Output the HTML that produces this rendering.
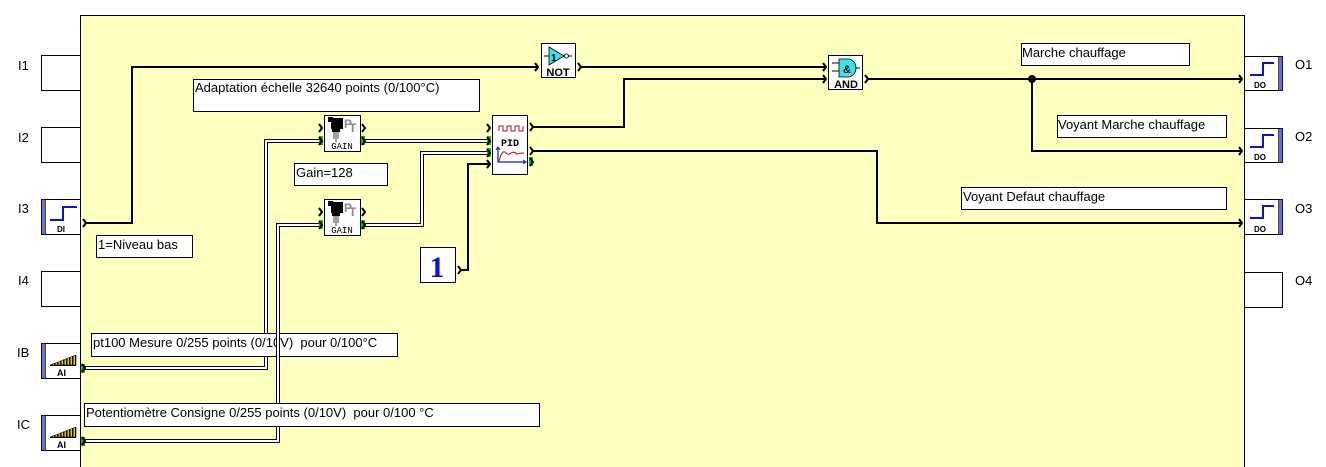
<!DOCTYPE html>
<html><head><meta charset="utf-8"><style>
html,body{margin:0;padding:0;background:#fff;}
svg{display:block;}
.s{font-family:"Liberation Sans",Arial,sans-serif;}
.m{font-family:"Liberation Mono","DejaVu Sans Mono",monospace;}
.r{font-family:"Liberation Serif","DejaVu Serif",serif;}
</style></head><body>
<svg width="1326" height="467" viewBox="0 0 1326 467" xmlns="http://www.w3.org/2000/svg">
<!-- main panel -->
<rect x="80.5" y="15.5" width="1164" height="460" fill="#FFFFC0" stroke="#000" stroke-width="1"/>

<!-- left labels -->
<g font-size="13" fill="#000" class="s">
<text class="s" x="18" y="70">I1</text><text class="s" x="18" y="142">I2</text><text class="s" x="18" y="213">I3</text>
<text class="s" x="18" y="285">I4</text><text class="s" x="17" y="357">IB</text><text class="s" x="17" y="429">IC</text>
<text class="s" x="1295" y="69">O1</text><text class="s" x="1295" y="141">O2</text><text class="s" x="1295" y="213">O3</text><text class="s" x="1295" y="285">O4</text>
</g>

<!-- input boxes -->
<g fill="#fff" stroke="#000" stroke-width="1">
<rect x="41.5" y="55.5" width="39" height="35"/>
<rect x="41.5" y="127.5" width="39" height="35"/>
<rect x="41.5" y="199.5" width="39" height="35"/>
<rect x="41.5" y="271.5" width="39" height="35"/>
<rect x="41.5" y="343.5" width="39" height="35"/>
<rect x="41.5" y="415.5" width="39" height="35"/>
<rect x="1244.5" y="56.5" width="38" height="34"/>
<rect x="1244.5" y="128.5" width="38" height="34"/>
<rect x="1244.5" y="199.5" width="38" height="35"/>
<rect x="1244.5" y="272.5" width="38" height="35"/>
</g>
<!-- blue bars -->
<g fill="#6C6CD6" stroke="#000" stroke-width="0.6">
<rect x="41.5" y="199.5" width="4" height="35"/>
<rect x="41.5" y="343.5" width="4" height="35"/>
<rect x="41.5" y="415.5" width="4" height="35"/>
<rect x="1278.5" y="56.5" width="4" height="34"/>
<rect x="1278.5" y="128.5" width="4" height="34"/>
<rect x="1278.5" y="199.5" width="4" height="35"/>
</g>
<!-- DI icon -->
<path d="M50 220 H63 V207 H77" fill="none" stroke="#1010D0" stroke-width="2"/>
<text class="s" x="57" y="232" font-size="8" font-weight="bold">DI</text>
<!-- DO icons -->
<g fill="none" stroke="#1010D0" stroke-width="2">
<path d="M1250 75 H1263 V63 H1274"/>
<path d="M1250 147 H1263 V135 H1274"/>
<path d="M1250 218 H1263 V206 H1274"/>
</g>
<g font-size="8" font-weight="bold">
<text class="s" x="1254" y="88">DO</text><text class="s" x="1254" y="160">DO</text><text class="s" x="1254" y="232">DO</text>
</g>
<!-- AI icons -->
<defs>
<pattern id="st" width="3" height="4" patternUnits="userSpaceOnUse">
<rect width="3" height="4" fill="#E8D000"/><rect width="1.5" height="4" fill="#000"/>
</pattern>
</defs>
<polygon points="50,365 76,355 76,365" fill="url(#st)" stroke="#000" stroke-width="0.5"/>
<line x1="50" y1="365.5" x2="76" y2="365.5" stroke="#000"/>
<text class="s" x="57" y="376" font-size="9" font-weight="bold">AI</text>
<polygon points="50,437 76,427 76,437" fill="url(#st)" stroke="#000" stroke-width="0.5"/>
<line x1="50" y1="437.5" x2="76" y2="437.5" stroke="#000"/>
<text class="s" x="57" y="448" font-size="9" font-weight="bold">AI</text>

<!-- IB double wire (under pt100 box) -->
<path d="M85 368 H266 V141 H319" fill="none" stroke="#000" stroke-width="4"/>
<path d="M85 368 H266 V141 H319" fill="none" stroke="#fff" stroke-width="2"/>

<!-- pt100 label -->
<rect x="91.5" y="333.5" width="306" height="23" fill="#fff" stroke="#000"/>
<text class="s" x="93" y="347" font-size="13">pt100 Mesure 0/255 points (0/10V)&#160; pour 0/100°C</text>

<!-- IC double wire -->
<path d="M85 441 H278 V225 H319" fill="none" stroke="#000" stroke-width="4"/>
<path d="M85 441 H278 V225 H319" fill="none" stroke="#fff" stroke-width="2"/>

<!-- Potentiometre label -->
<rect x="84.5" y="403.5" width="455" height="23" fill="#fff" stroke="#000"/>
<text class="s" x="86" y="417" font-size="13">Potentiomètre Consigne 0/255 points (0/10V)&#160; pour 0/100 °C</text>

<!-- other double wires -->
<path d="M365 141 H488" fill="none" stroke="#000" stroke-width="4"/>
<path d="M365 141 H488" fill="none" stroke="#fff" stroke-width="2"/>
<path d="M365 225 H422 V153 H488" fill="none" stroke="#000" stroke-width="4"/>
<path d="M365 225 H422 V153 H488" fill="none" stroke="#fff" stroke-width="2"/>

<!-- single wires -->
<g fill="none" stroke="#000" stroke-width="2">
<path d="M86 223 H132 V67 H537"/>
<path d="M580 67 H826"/>
<path d="M532 127 H624 V79 H826"/>
<path d="M867 79 H1242"/>
<path d="M1032 79 V151 H1242"/>
<path d="M532 151 H877 V223 H1242"/>
<path d="M462 270 H468 V164 H490"/>
</g>
<circle cx="1032" cy="79" r="4" fill="#000"/>

<!-- label boxes -->
<g fill="#fff" stroke="#000">
<rect x="193.5" y="79.5" width="286" height="32"/>
<rect x="294.5" y="163.5" width="93" height="22"/>
<rect x="96.5" y="235.5" width="96" height="22"/>
<rect x="1021.5" y="43.5" width="168" height="22"/>
<rect x="1057.5" y="115.5" width="169" height="22"/>
<rect x="961.5" y="187.5" width="265" height="22"/>
</g>
<g font-size="13" fill="#000">
<text class="s" x="195" y="92">Adaptation échelle 32640 points (0/100°C)</text>
<text class="s" x="296" y="177">Gain=128</text>
<text class="s" x="98" y="249">1=Niveau bas</text>
<text class="s" x="1022" y="57">Marche chauffage</text>
<text class="s" x="1058" y="129">Voyant Marche chauffage</text>
<text class="s" x="963" y="201">Voyant Defaut chauffage</text>
</g>

<!-- NOT block -->
<rect x="541.5" y="43.5" width="34" height="34" fill="#fff" stroke="#000"/>
<line x1="544" y1="56" x2="549" y2="56" stroke="#000"/>
<polygon points="549,47 549,65 564,56" fill="#40E0E8" stroke="#000" stroke-width="0.8"/>
<circle cx="566.5" cy="56" r="2" fill="#fff" stroke="#000" stroke-width="0.8"/>
<line x1="568.5" y1="56" x2="572" y2="56" stroke="#000"/>
<text class="s" x="551" y="61" font-size="10" font-weight="bold">1</text>
<text class="s" x="558" y="76" font-size="11" font-weight="bold" text-anchor="middle">NOT</text>

<!-- AND block -->
<rect x="828.5" y="55.5" width="34" height="34" fill="#fff" stroke="#000"/>
<line x1="832" y1="63" x2="839" y2="63" stroke="#000"/>
<line x1="832" y1="71" x2="839" y2="71" stroke="#000"/>
<path d="M839 59 H848 A8 9 0 0 1 848 77 H839 Z" fill="#40E0E8" stroke="#000" stroke-width="0.8"/>
<line x1="856" y1="68" x2="860" y2="68" stroke="#000"/>
<text class="s" x="847" y="73" font-size="11" font-weight="bold" text-anchor="middle">&amp;</text>
<text class="s" x="846" y="88" font-size="11" font-weight="bold" text-anchor="middle">AND</text>

<!-- GAIN blocks -->
<g>
<rect x="324.5" y="115.5" width="36" height="36" fill="#fff" stroke="#000"/>
<rect x="328" y="117" width="5" height="5" fill="#000"/>
<rect x="331" y="118" width="12" height="11" fill="#000"/>
<rect x="332" y="129" width="8" height="3" fill="#000"/>
<rect x="333" y="132" width="6" height="7" fill="#A0A0A0"/>
<rect x="335" y="139" width="2" height="3" fill="#A0A0A0"/>
<text class="s" x="344" y="128" font-size="12" font-weight="bold" fill="#8A8A8A">P</text>
<text class="s" x="349" y="132" font-size="12" font-weight="bold" fill="#8A8A8A">T</text>
<text class="m" x="342" y="149" font-size="9" text-anchor="middle">GAIN</text>
</g>
<g>
<rect x="324.5" y="199.5" width="36" height="36" fill="#fff" stroke="#000"/>
<rect x="328" y="201" width="5" height="5" fill="#000"/>
<rect x="331" y="202" width="12" height="11" fill="#000"/>
<rect x="332" y="213" width="8" height="3" fill="#000"/>
<rect x="333" y="216" width="6" height="7" fill="#A0A0A0"/>
<rect x="335" y="223" width="2" height="3" fill="#A0A0A0"/>
<text class="s" x="344" y="212" font-size="12" font-weight="bold" fill="#8A8A8A">P</text>
<text class="s" x="349" y="216" font-size="12" font-weight="bold" fill="#8A8A8A">T</text>
<text class="m" x="342" y="233" font-size="9" text-anchor="middle">GAIN</text>
</g>

<!-- PID block -->
<rect x="492.5" y="115.5" width="35" height="59" fill="#fff" stroke="#000"/>
<path d="M499 131 V126 H503 V131 H507 V126 H511 V131 H515 V126 H519 V131 H523 V126" fill="none" stroke="#B01010" stroke-width="1"/>
<text class="m" x="510" y="146" font-size="10" font-weight="bold" text-anchor="middle">PID</text>
<path d="M498 148 V162 H525" fill="none" stroke="#1010D0" stroke-width="1.2"/>
<path d="M496 150 L498 147 L500 150" fill="none" stroke="#1010D0" stroke-width="1"/>
<path d="M523 160 L526 162 L523 164" fill="none" stroke="#1010D0" stroke-width="1"/>
<path d="M499 161 Q502 150 505 152 Q508 156 511 153 Q514 151 517 154 Q520 153 524 153" fill="none" stroke="#B01010" stroke-width="1"/>

<!-- constant 1 -->
<rect x="420.5" y="247.5" width="35" height="35" fill="#fff" stroke="#000"/>
<text class="r" x="437" y="277" font-size="30" font-weight="bold" fill="#1010D0" text-anchor="middle">1</text>

<!-- green ports -->
<g fill="#10C010">
<rect x="81" y="364" width="4" height="9"/>
<rect x="81" y="437" width="4" height="9"/>
<rect x="319" y="136" width="4" height="9"/>
<rect x="319" y="220" width="4" height="9"/>
<rect x="361" y="136" width="4" height="9"/>
<rect x="361" y="220" width="4" height="9"/>
<rect x="487" y="136" width="4" height="9"/>
<rect x="487" y="148" width="4" height="9"/>
<rect x="529" y="157" width="4" height="9"/>
</g>
<!-- chevrons -->
<g fill="none" stroke="#000" stroke-width="2" stroke-linejoin="miter">
<path d="M83 219 L86 223 L83 227"/>
<path d="M82 364 L85 368 L82 372"/>
<path d="M82 437 L85 441 L82 445"/>
<path d="M535 63 L538 67 L535 71"/>
<path d="M578 63 L581 67 L578 71"/>
<path d="M823 63 L826 67 L823 71"/>
<path d="M823 75 L826 79 L823 83"/>
<path d="M865 75 L868 79 L865 83"/>
<path d="M1239 75 L1242 79 L1239 83"/>
<path d="M1239 147 L1242 151 L1239 155"/>
<path d="M1239 219 L1242 223 L1239 227"/>
<path d="M319 124 L322 128 L319 132"/>
<path d="M319 137 L322 141 L319 145"/>
<path d="M362 124 L365 128 L362 132"/>
<path d="M362 137 L365 141 L362 145"/>
<path d="M319 208 L322 212 L319 216"/>
<path d="M319 221 L322 225 L319 229"/>
<path d="M362 208 L365 212 L362 216"/>
<path d="M362 221 L365 225 L362 229"/>
<path d="M487 124 L490 128 L487 132"/>
<path d="M487 137 L490 141 L487 145"/>
<path d="M487 149 L490 153 L487 157"/>
<path d="M487 160 L490 164 L487 168"/>
<path d="M530 123 L533 127 L530 131"/>
<path d="M530 147 L533 151 L530 155"/>
<path d="M530 158 L533 162 L530 166"/>
<path d="M458 266 L461 270 L458 274"/>
</g>
</svg>
</body></html>
